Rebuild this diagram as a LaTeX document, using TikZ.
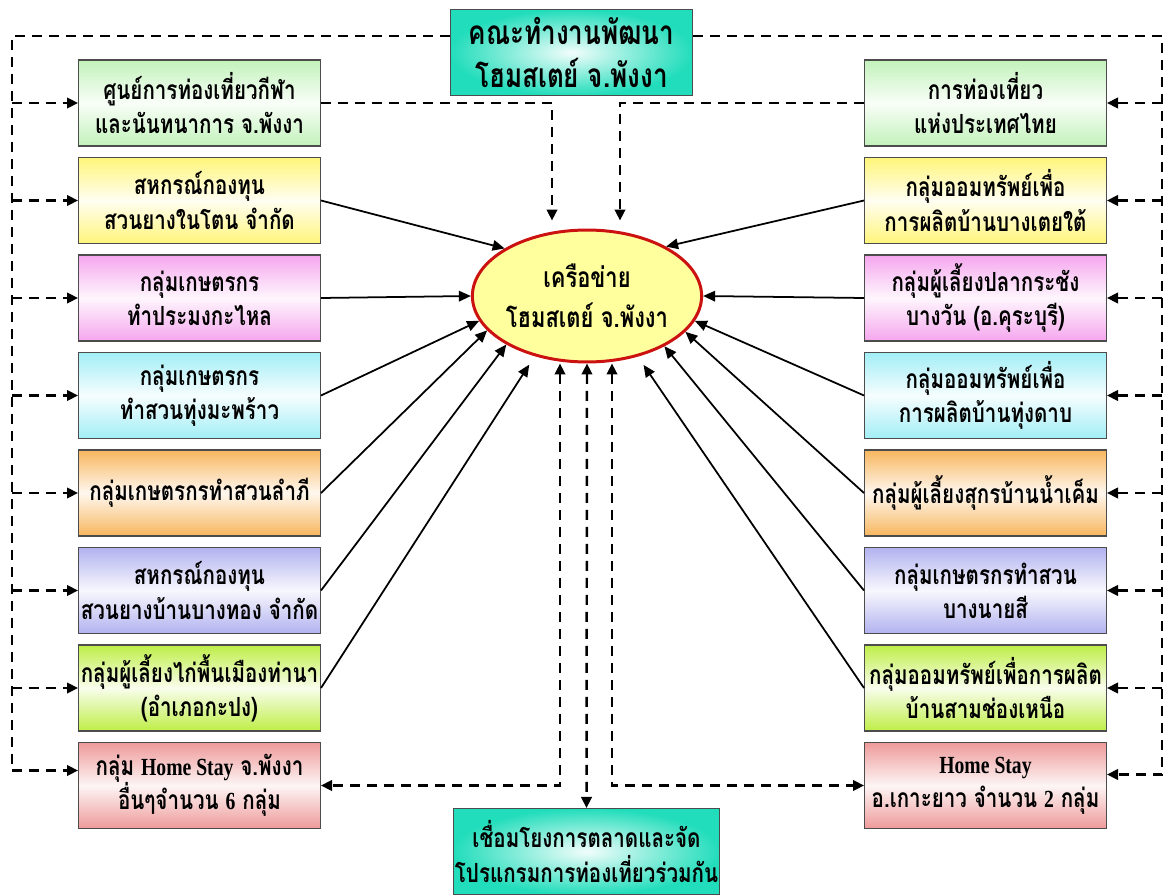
\documentclass[tikz,border=0pt]{standalone}
\usepackage{fontspec}
\setmainfont{Liberation Serif}
\newfontfamily\thaifont[Script=Thai, FakeStretch=0.78]{Loma}
\newfontfamily\latfont[FakeStretch=0.8]{Liberation Serif}
\usetikzlibrary{positioning, calc, arrows.meta, shapes.geometric}

\definecolor{cGreen}{HTML}{C2F2BA}
\definecolor{cYellow}{HTML}{FFF57A}
\definecolor{cPink}{HTML}{F5A6EE}
\definecolor{cCyan}{HTML}{A2EEF6}
\definecolor{cOrange}{HTML}{F7B65E}
\definecolor{cLilac}{HTML}{B2B2F0}
\definecolor{cLime}{HTML}{BEEE46}
\definecolor{cSalmon}{HTML}{EE9A9A}
\definecolor{cTeal}{HTML}{22DDBB}
\definecolor{cSun}{HTML}{FFFF9E}
\definecolor{cRed}{HTML}{CC1111}

\newcommand{\boxfont}{\thaifont\bfseries\fontsize{15}{19.5}\selectfont}
\newcommand{\hubfont}{\thaifont\bfseries\fontsize{19}{24}\selectfont}
\newcommand{\corefont}{\thaifont\bfseries\fontsize{16}{23}\selectfont}
\newcommand{\en}[1]{{\latfont\bfseries\fontsize{14}{19.5}\selectfont #1}}

\begin{document}
\begin{tikzpicture}[x=0.02cm, y=-0.02cm,
  box/.style     = {draw=black!70, line width=0.6pt, minimum width=4.84cm, minimum height=1.72cm,
                    inner sep=1pt, align=center, font=\boxfont},
  boxfill/.style = {top color=#1, bottom color=#1, middle color=#1!10},
  hub/.style     = {box, inner color=cTeal!6, outer color=cTeal},
  core/.style    = {ellipse, draw=cRed, line width=1.7pt, fill=cSun, minimum width=4.28cm,
                    minimum height=2.64cm, inner sep=0pt, align=center, font=\corefont},
  arr/.style     = {-{Triangle[length=2.4mm, width=2.1mm]}, line width=1pt},
  darr/.style    = {-{Triangle[length=2.2mm, width=2.1mm]}, line width=1.4pt, dash pattern=on 2mm off 1.4mm},
  dboth/.style   = {darr, {Triangle[length=2.2mm, width=2.1mm]}-{Triangle[length=2.2mm, width=2.1mm]}},
]
\path[use as bounding box, fill=white] (0,0) rectangle (1173,895);

% ---- top and bottom ---------------------------------------------------------
\node[hub, font=\hubfont] (team) at (571.5,52.5) {คณะทำงานพัฒนา\\โฮมสเตย์ จ.พังงา};
\node[hub] (link) at (586.5,851.5) {เชื่อมโยงการตลาดและจัด\\โปรแกรมการท่องเที่ยวร่วมกัน};

% ---- the network ------------------------------------------------------------
\node[core] (net) at (587,296) {เครือข่าย\\โฮมสเตย์ จ.พังงา};

% ---- left column ------------------------------------------------------------
\node[box, boxfill=cGreen]  (l1) at (199.5,103)   {ศูนย์การท่องเที่ยวกีฬา\\และนันทนาการ จ.พังงา};
\node[box, boxfill=cYellow] (l2) at (199.5,200.5) {สหกรณ์กองทุน\\สวนยางในโตน จำกัด};
\node[box, boxfill=cPink]   (l3) at (199.5,298)   {กลุ่มเกษตรกร\\ทำประมงกะไหล};
\node[box, boxfill=cCyan]   (l4) at (199.5,395.5) {กลุ่มเกษตรกร\\ทำสวนทุ่งมะพร้าว};
\node[box, boxfill=cOrange] (l5) at (199.5,493)   {กลุ่มเกษตรกรทำสวนลำภี};
\node[box, boxfill=cLilac]  (l6) at (199.5,590.5) {สหกรณ์กองทุน\\สวนยางบ้านบางทอง จำกัด};
\node[box, boxfill=cLime]   (l7) at (199.5,688)   {กลุ่มผู้เลี้ยงไก่พื้นเมืองท่านา\\(อำเภอกะปง)};
\node[box, boxfill=cSalmon] (l8) at (199.5,785.5) {กลุ่ม \en{Home Stay} จ.พังงา\\อื่นๆจำนวน \en{6} กลุ่ม};

% ---- right column -----------------------------------------------------------
\node[box, boxfill=cGreen]  (r1) at (985.5,103)   {การท่องเที่ยว\\แห่งประเทศไทย};
\node[box, boxfill=cYellow] (r2) at (985.5,200.5) {กลุ่มออมทรัพย์เพื่อ\\การผลิตบ้านบางเตยใต้};
\node[box, boxfill=cPink]   (r3) at (985.5,298)   {กลุ่มผู้เลี้ยงปลากระชัง\\บางวัน (อ.คุระบุรี)};
\node[box, boxfill=cCyan]   (r4) at (985.5,395.5) {กลุ่มออมทรัพย์เพื่อ\\การผลิตบ้านทุ่งดาบ};
\node[box, boxfill=cOrange] (r5) at (985.5,493)   {กลุ่มผู้เลี้ยงสุกรบ้านน้ำเค็ม};
\node[box, boxfill=cLilac]  (r6) at (985.5,590.5) {กลุ่มเกษตรกรทำสวน\\บางนายสี};
\node[box, boxfill=cLime]   (r7) at (985.5,688)   {กลุ่มออมทรัพย์เพื่อการผลิต\\บ้านสามช่องเหนือ};
\node[box, boxfill=cSalmon] (r8) at (985.5,785.5) {\en{Home Stay}\\อ.เกาะยาว จำนวน \en{2} กลุ่ม};

% ---- dashed frame from the working team -------------------------------------
\coordinate (tl) at (12,36);
\coordinate (tr) at (1162,36);
\draw[darr] (team.west |- tl) -- (tl) |- ([yshift=0.3cm]l8.west);
\draw[darr] (team.east |- tr) -- (tr) |- ([yshift=0.22cm]r8.east);
\foreach \i in {1,...,7} {
  \draw[darr] (tl |- l\i.west) -- (l\i.west);
  \draw[darr] (tr |- r\i.east) -- (r\i.east);
}

% ---- members into the network -----------------------------------------------
\foreach \i/\a in {2/150, 3/180, 4/193, 5/199, 6/211}
  \draw[arr] (l\i.east) -- (net.\a);
\foreach \i/\a in {2/32, 3/0, 4/347, 5/340, 6/327}
  \draw[arr] (r\i.west) -- (net.\a);
\draw[arr, shorten >=0.2cm] (l7.east) -- (net.229);
\draw[arr, shorten >=0.2cm] (r7.west) -- (net.310);

\draw[darr, shorten >=0.16cm] (l1.east) -| ($(net.north)+(-35,0)$);
\draw[darr, shorten >=0.16cm] (r1.west) -| ($(net.north)+(33,0)$);

% ---- links below the network ------------------------------------------------
\draw[dboth] ($(net.south)+(-27,0)$) |- (l8.east);
\draw[dboth] ($(net.south)+(25,0)$) |- (r8.west);
\draw[dboth] (net.south) -- (link.north);

\end{tikzpicture}
\end{document}
